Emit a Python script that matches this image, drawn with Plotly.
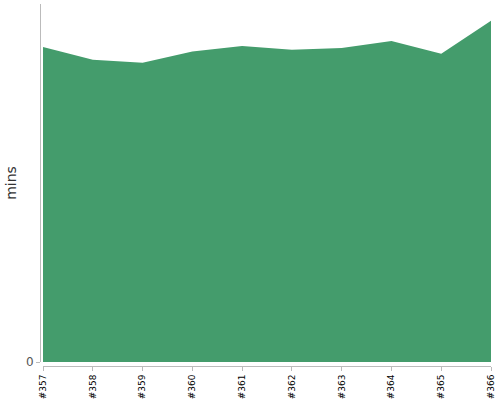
import plotly.graph_objects as go

builds = ["#357", "#358", "#359", "#360", "#361", "#362", "#363", "#364", "#365", "#366"]
mins = [88.0, 84.4, 83.6, 86.7, 88.3, 87.2, 87.7, 89.7, 86.1, 95.3]

fig = go.Figure()
fig.add_trace(go.Scatter(
    x=builds, y=mins, mode="lines", fill="tozeroy",
    line=dict(color="#449C6C", width=0), fillcolor="#449C6C",
    hoverinfo="x+y",
))

fig.update_layout(
    width=500, height=400,
    margin=dict(l=40, r=9, t=4, b=34),
    paper_bgcolor="white", plot_bgcolor="white",
    showlegend=False,
    font=dict(family="DejaVu Sans, Verdana, sans-serif", color="#333"),
)
fig.update_xaxes(
    type="category", range=[0, 9], domain=[0.0067, 1],
    anchor="free", position=0,
    showgrid=False, showline=True, linecolor="#bbb", linewidth=1,
    ticks="outside", ticklen=4, tickcolor="#bbb",
    tickangle=-90, tickfont=dict(size=9, color="black"),
    automargin=False,
)
fig.update_yaxes(
    range=[0, 100], domain=[0.011, 1],
    anchor="free", position=0,
    showgrid=False, zeroline=False, showline=True, linecolor="#bbb", linewidth=1,
    tickvals=[0], ticks="outside", ticklen=4, tickcolor="#bbb",
    tickfont=dict(size=12, color="#555"),
    title=dict(text="mins", font=dict(size=14, color="#333"), standoff=5),
    automargin=False,
)

# the page body has a default 8px margin; remove it so the figure sits at 0,0
fig.write_html("out.html", config={"displayModeBar": False},
               post_script="document.body.style.margin='0';")
